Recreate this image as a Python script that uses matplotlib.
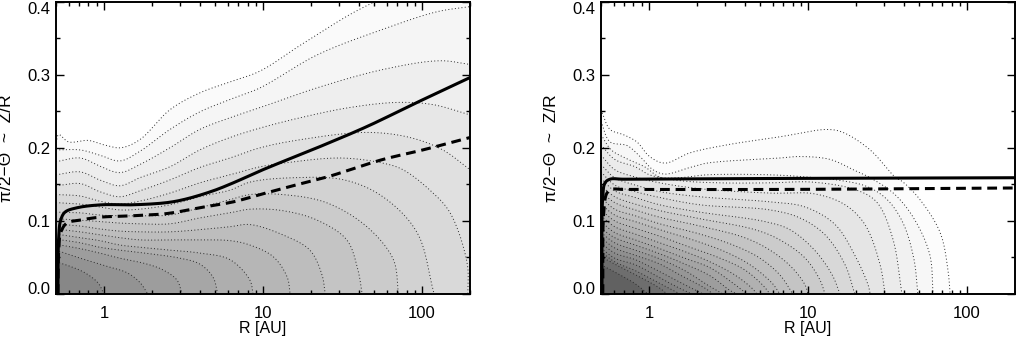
import numpy as np
import matplotlib
matplotlib.use("Agg")
import matplotlib.pyplot as plt
from matplotlib.ticker import FixedLocator, FixedFormatter, LogLocator, NullFormatter

plt.rcParams['font.family'] = ['Liberation Sans', 'DejaVu Sans']

R_MIN, R_MAX = 0.5, 200.0
Z_MIN, Z_MAX = 0.0, 0.4
x_ticks = [1, 10, 100]
x_tick_labels = ['1', '10', '100']
y_ticks = [0.0, 0.1, 0.2, 0.3, 0.4]
y_tick_labels = ['0.0', '0.1', '0.2', '0.3', '0.4']
x_label = 'R [AU]'
y_label = 'π/2−Θ  ~  Z/R'

# Left panel: density contours, outermost first
left_R = [
    [.5, .52, .6, .8, 1.0, 1.28, 1.68, 2.6, 4, 6.2, 9.6, 17.1, 35, 50.6],
    [.5, .71, .94, 1.26, 1.68, 2.6, 4, 6.2, 9.6, 21.9, 56.7, 124, 200],
    [.5, .71, .94, 1.26, 1.68, 2.6, 4, 6.2, 9.6, 21.9, 56.7, 129, 200],
    [.5, .71, .94, 1.26, 1.68, 2.6, 4, 6.2, 9.6, 17.1, 35, 69.8, 117, 200],
    [.5, .71, .94, 1.26, 1.68, 2.6, 4, 6.2, 9.6, 17.1, 45, 84, 135, 200],
    [.5, .71, .94, 1.26, 1.68, 2.6, 4, 6.2, 9.6, 13.4, 30.6, 56.7, 75.8, 112, 150, 192, 194],
    [.5, .71, .94, 1.26, 1.68, 2.6, 4, 6.2, 8.27, 15.4, 32.5, 56.7, 93, 119],
    [.5, .71, .94, 1.26, 1.68, 2.6, 4, 6.2, 8.27, 13.3, 25, 45, 66, 71],
    [.5, .71, .94, 1.26, 1.68, 2.6, 4, 6.2, 8.27, 13.3, 21.9, 33.6, 39.5, 42],
    [.5, .71, .94, 1.26, 1.68, 2.6, 4, 6.2, 8.27, 13.3, 19.7, 23.5, 24.6],
    [.5, .71, .94, 1.26, 1.68, 2.6, 4, 6.2, 8.27, 11.6, 14.2, 14.8],
    [.5, .71, .94, 1.26, 1.68, 2.6, 4, 6.2, 8.27, 8.66],
    [.5, .71, .94, 1.26, 1.95, 3.0, 4, 4.85, 5.2],
    [.5, .71, .94, 1.26, 1.86, 2.35, 2.88, 3.1],
    [.5, .71, 1.04, 1.4, 1.68, 1.89],
    [.5, .61, .76, .92, 1.0],
]
left_Z = [
    [.207, .218, .208, .210, .204, .200, .211, .252, .275, .290, .305, .340, .382, .40],
    [.197, .197, .190, .182, .195, .225, .249, .266, .282, .327, .362, .386, .393],
    [.181, .186, .175, .166, .177, .200, .225, .241, .255, .282, .307, .319, .314],
    [.163, .167, .156, .148, .159, .174, .197, .214, .227, .241, .255, .262, .259, .245],
    [.148, .151, .140, .133, .141, .156, .173, .186, .200, .211, .221, .214, .197, .170],
    [.136, .134, .127, .123, .127, .138, .152, .163, .174, .179, .186, .179, .170, .142, .111, .042, 0],
    [.125, .123, .119, .115, .116, .122, .133, .142, .153, .159, .156, .133, .084, 0],
    [.112, .111, .108, .107, .107, .108, .118, .129, .136, .136, .125, .092, .047, 0],
    [.103, .101, .099, .097, .096, .096, .104, .111, .116, .114, .101, .074, .033, 0],
    [.096, .093, .089, .086, .085, .085, .088, .092, .095, .081, .060, .026, 0],
    [.089, .085, .081, .077, .074, .074, .074, .073, .067, .051, .023, 0],
    [.082, .077, .073, .067, .064, .060, .056, .047, .019, 0],
    [.075, .070, .064, .060, .055, .049, .041, .023, 0],
    [.068, .062, .056, .049, .041, .033, .019, 0],
    [.060, .049, .038, .029, .016, 0],
    [.044, .038, .029, .015, 0],
]
left_gray = [250, 245, 238, 231, 224, 217, 210, 203, 196, 189, 182, 174, 166, 157, 147, 135]
left_solid_R = [.514, .52, .535, .57, .68, .97, 1.52, 2.5, 3.3, 4.85, 6.5, 10, 21.9, 45, 93, 200]
left_solid_Z = [0, .078, .101, .112, .118, .122, .122, .125, .130, .141, .152, .170, .200, .229, .262, .296]
left_dash_R = [.514, .52, .535, .585, .706, .94, 1.52, 2.49, 4.0, 6.5, 9.6, 15.4, 25.3, 35.3, 56.7, 101, 200]
left_dash_Z = [0, .060, .084, .097, .101, .105, .107, .110, .118, .126, .136, .148, .160, .170, .184, .197, .214]

# Right panel: density contours, outermost first
right_R = [
    [.5, .57, .69, .84, 1.01, 1.26, 1.81, 3.1, 6.66, 13.2, 16.6, 24.6, 35.2, 39.6, 50.6, 67.7, 75.8, 78.2],
    [.5, .57, .73, .88, 1.06, 1.26, 1.81, 2.32, 6.66, 8.9, 13.8, 19.2, 24.6, 35.2, 47, 58.4, 61],
    [.5, .58, .71, .94, 1.17, 1.55, 2.32, 5.77, 9.86, 15.2, 23.5, 31.5, 39.6, 46.4, 49],
    [.5, .61, .82, 1.01, 1.57, 2.8, 5.77, 10.7, 20.3, 27.2, 34.3, 38.9],
    [.5, .61, .82, 1.17, 2.09, 5.77, 11, 17.1, 22.8, 28.4, 30.5],
    [.5, .61, .82, 1.17, 2.09, 5.77, 9.6, 14.8, 19.7, 23.9, 24.6],
    [.5, .61, .82, 1.17, 2.09, 5.77, 8.9, 12.8, 17.1, 19.7],
    [.5, .61, .82, 1.17, 2.09, 5.37, 7.7, 11, 14.2, 15.9],
    [.5, .61, .82, 1.17, 2.09, 4.64, 6.66, 9.6, 11.9, 12.8],
    [.5, .61, .82, 1.17, 2.09, 4.0, 5.77, 7.94, 9.6, 10],
    [.5, .61, .82, 1.17, 2.09, 3.47, 4.99, 6.66, 8.04],
    [.5, .61, .82, 1.17, 1.95, 3.0, 4.32, 5.94, 6.66],
    [.5, .61, .82, 1.17, 1.81, 2.8, 4.0, 5.2, 5.77],
    [.5, .61, .82, 1.17, 1.68, 2.42, 3.47, 4.44, 4.78],
    [.5, .61, .82, 1.17, 1.68, 2.42, 3.32, 4.14],
    [.5, .61, .82, 1.17, 1.68, 2.42, 3.23, 3.58],
    [.5, .61, .82, 1.17, 1.68, 2.35, 2.92],
    [.5, .61, .82, 1.17, 1.57, 2.25, 2.53],
    [.5, .61, .82, 1.09, 1.57, 2.19],
    [.5, .61, .82, 1.09, 1.46, 1.86],
    [.5, .61, .82, 1.09, 1.57],
    [.5, .66, .88, 1.17, 1.3],
    [.5, .66, .82, .99],
]
right_Z = [
    [.252, .225, .218, .208, .188, .179, .193, .204, .215, .225, .221, .197, .160, .153, .129, .084, .033, 0],
    [.236, .208, .203, .188, .170, .164, .173, .179, .186, .188, .184, .170, .159, .136, .101, .053, 0],
    [.218, .197, .186, .174, .160, .159, .163, .163, .160, .156, .147, .129, .097, .047, 0],
    [.204, .184, .174, .163, .155, .152, .152, .153, .142, .125, .074, 0],
    [.190, .170, .160, .152, .144, .138, .137, .122, .095, .040, 0],
    [.177, .159, .149, .140, .133, .126, .119, .095, .053, .012, 0],
    [.167, .149, .140, .132, .122, .115, .104, .081, .040, 0],
    [.158, .141, .132, .122, .112, .099, .088, .060, .026, 0],
    [.148, .133, .123, .114, .103, .088, .074, .049, .019, 0],
    [.140, .125, .115, .105, .093, .077, .060, .036, .012, 0],
    [.132, .116, .107, .096, .082, .066, .049, .026, 0],
    [.123, .108, .099, .088, .073, .058, .040, .015, 0],
    [.115, .100, .090, .079, .064, .049, .033, .012, 0],
    [.107, .092, .082, .070, .058, .044, .026, .008, 0],
    [.099, .084, .074, .062, .049, .036, .016, 0],
    [.090, .077, .067, .055, .041, .025, .005, 0],
    [.084, .070, .060, .048, .032, .012, 0],
    [.077, .063, .053, .041, .026, .008, 0],
    [.070, .056, .047, .034, .016, 0],
    [.063, .049, .040, .026, .011, 0],
    [.058, .044, .032, .018, 0],
    [.051, .037, .023, .008, 0],
    [.040, .026, .014, 0],
]
right_gray = [252, 247, 241, 235, 229, 222, 216, 209, 203, 196, 190, 183, 177, 170, 164, 157, 150, 143, 136, 129, 120, 110, 97]
right_solid_R = [.507, .513, .53, .57, .7, 6.7, 200]
right_solid_Z = [0, .133, .152, .157, .157, .158, .159]
right_dash_R = [.513, .52, .545, .585, .7, 6.7, 200]
right_dash_Z = [0, .111, .138, .143, .143, .143, .145]


def smooth(r, z, n=14):
    """Centripetal Catmull-Rom through the read points, for drawing only."""
    x = np.log10(np.asarray(r, float)) * 159.0
    y = np.asarray(z, float) * 730.0
    if len(x) < 3:
        return np.asarray(r, float), np.asarray(z, float)
    P = np.column_stack([x, y])
    P = np.vstack([2 * P[0] - P[1], P, 2 * P[-1] - P[-2]])
    out = [P[1]]
    for i in range(1, len(P) - 2):
        p0, p1, p2, p3 = P[i - 1], P[i], P[i + 1], P[i + 2]
        t0 = 0.0
        t1 = t0 + max(np.linalg.norm(p1 - p0), 1e-6) ** 0.5
        t2 = t1 + max(np.linalg.norm(p2 - p1), 1e-6) ** 0.5
        t3 = t2 + max(np.linalg.norm(p3 - p2), 1e-6) ** 0.5
        for t in np.linspace(t1, t2, n + 1)[1:]:
            a1 = (t1 - t) / (t1 - t0) * p0 + (t - t0) / (t1 - t0) * p1
            a2 = (t2 - t) / (t2 - t1) * p1 + (t - t1) / (t2 - t1) * p2
            a3 = (t3 - t) / (t3 - t2) * p2 + (t - t2) / (t3 - t2) * p3
            b1 = (t2 - t) / (t2 - t0) * a1 + (t - t0) / (t2 - t0) * a2
            b2 = (t3 - t) / (t3 - t1) * a2 + (t - t1) / (t3 - t1) * a3
            out.append((t2 - t) / (t2 - t1) * b1 + (t - t1) / (t2 - t1) * b2)
    out = np.array(out)
    return 10 ** (out[:, 0] / 159.0), np.clip(out[:, 1] / 730.0, 0, None)


def draw(ax, Rs, Zs, grays, sR, sZ, dR, dZ):
    curves = []
    for r, z in zip(Rs, Zs):
        assert len(r) == len(z)
        curves.append(smooth(r, z))
    for (r, z), g in zip(curves, grays):
        px, pz = list(r), list(z)
        if z[-1] >= Z_MAX:
            px.append(R_MAX); pz.append(Z_MAX)
        if z[-1] > 0:
            px.append(R_MAX); pz.append(Z_MIN)
        px.append(R_MIN); pz.append(Z_MIN)
        ax.fill(px, pz, color=(g / 255,) * 3, lw=0, zorder=1)
    for r, z in curves:
        ax.plot(r, z, color='#2a2a2a', lw=0.7, ls=(0, (1, 2.4)), zorder=2)
    sx, sy = smooth(sR, sZ)
    dx, dy = smooth(dR, dZ)
    ax.plot(sx, sy, color='k', lw=2.2, zorder=4, solid_capstyle='butt')
    ax.plot(dx, dy, color='k', lw=2.2, ls=(0, (3.2, 1.9)), zorder=4)
    ax.set_xscale('log')
    ax.set_xlim(R_MIN, R_MAX)
    ax.set_ylim(Z_MIN, Z_MAX)
    ax.xaxis.set_major_locator(FixedLocator(x_ticks))
    ax.xaxis.set_major_formatter(FixedFormatter(x_tick_labels))
    ax.xaxis.set_minor_locator(LogLocator(base=10, subs=range(2, 10), numticks=12))
    ax.xaxis.set_minor_formatter(NullFormatter())
    ax.yaxis.set_major_locator(FixedLocator(y_ticks))
    ax.yaxis.set_major_formatter(FixedFormatter(y_tick_labels))
    ax.yaxis.set_minor_locator(FixedLocator([.05, .15, .25, .35]))
    ax.tick_params(which='major', direction='in', top=True, right=True, length=5.5, width=1.0,
                   labelsize=12, pad=4)
    ax.tick_params(which='minor', direction='in', top=True, right=True, length=2.8, width=1.0)
    ax.tick_params(axis='x', which='major', pad=9)
    labels = ax.get_yticklabels()
    labels[0].set_verticalalignment('baseline')
    labels[-1].set_verticalalignment('top')
    for s in ax.spines.values():
        s.set_linewidth(1.4)
        s.set_zorder(6)
    ax.set_xlabel(x_label, fontsize=11.5, labelpad=0)
    ax.set_ylabel(y_label, fontsize=12.5)
    ax.yaxis.set_label_coords(-42 / 414, 0.5)
    ax.set_axisbelow(False)


W, H = 1016, 341
fig = plt.figure(figsize=(W / 100, H / 100), dpi=100)
bottom = (H - 294) / H
height = (294 - 1.5) / H
ax1 = fig.add_axes([56 / W, bottom, 414 / W, height])
ax2 = fig.add_axes([601 / W, bottom, 414 / W, height])
draw(ax1, left_R, left_Z, left_gray, left_solid_R, left_solid_Z, left_dash_R, left_dash_Z)
draw(ax2, right_R, right_Z, right_gray, right_solid_R, right_solid_Z, right_dash_R, right_dash_Z)
fig.savefig('out.png', dpi=100)
